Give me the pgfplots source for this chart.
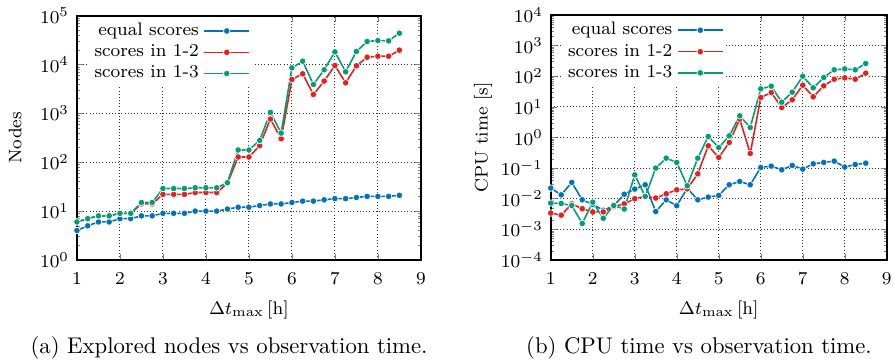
\documentclass[border=0pt]{standalone}
\usepackage{pgfplots}
\usepackage{pgfplotstable}
\pgfplotsset{compat=1.18}
\definecolor{cblue}{RGB}{0,114,189}
\definecolor{cred}{RGB}{230,30,30}
\definecolor{cgreen}{RGB}{0,158,115}
\pgfplotstableread{
x eq s12 s13
1 4 6 6
1.25 5 7 7
1.5 6 8 8
1.75 6 8 8
2 7 9 9
2.25 7 9 9
2.5 8 14 15
2.75 8 14 15
3 9 22 29
3.25 9 22 29
3.5 9 22 29
3.75 10 24 30
4 10 24 30
4.25 10 24 30
4.5 11 37 38
4.75 12 128 178
5 12 128 178
5.25 13 218 280
5.5 14 764 1047
5.75 14 303 395
6 15 4950 8570
6.25 16 6460 11700
6.5 16 2440 3910
6.75 17 4580 7800
7 18 9560 18200
7.25 18 4230 7080
7.5 19 9420 18500
7.75 20 14100 29600
8 20 14800 31000
8.25 20 14800 30500
8.5 21 19700 43800
}\tabnodes
\pgfplotstableread{
x eq s12 s13
1 0.0222 0.0034 0.0072
1.25 0.0134 0.0029 0.0070
1.5 0.034 0.0068 0.0060
1.75 0.0092 0.0047 0.00156
2 0.0065 0.0037 0.0077
2.25 0.0042 0.0037 0.0023
2.5 0.0058 0.0055 0.0060
2.75 0.014 0.0068 0.0046
3 0.0206 0.010 0.060
3.25 0.0285 0.0119 0.0119
3.5 0.0038 0.0105 0.10
3.75 0.0092 0.0145 0.211
4 0.0059 0.0195 0.153
4.25 0.022 0.021 0.0264
4.5 0.0092 0.065 0.211
4.75 0.0113 0.535 1.08
5 0.0128 0.222 0.47
5.25 0.0285 0.687 1.13
5.5 0.0366 3.97 5.1
5.75 0.0285 0.30 2.12
6 0.105 20.2 38.8
6.25 0.116 29.4 47.4
6.5 0.088 9.5 14.2
6.75 0.122 17 30.2
7 0.0925 51 100
7.25 0.138 21.3 41.8
7.5 0.153 48.6 91
7.75 0.169 80 162
8 0.108 88.7 174
8.25 0.131 80 162
8.5 0.145 126 260
}\tabcpu
\tikzset{
  serblue/.style={cblue, line width=0.7pt, mark=*, mark size=1.45pt, mark options={fill=cblue, draw=white, line width=0.3pt}},
  serred/.style={cred, line width=0.7pt, mark=*, mark size=1.45pt, mark options={fill=cred, draw=white, line width=0.3pt}},
  sergreen/.style={cgreen, line width=0.7pt, mark=*, mark size=1.45pt, mark options={fill=cgreen, draw=white, line width=0.3pt}},
}
\pgfplotsset{
  every axis/.append style={
    scale only axis,
    xmin=1, xmax=9, xtick={1,2,...,9},
    tick align=inside, major tick length=2.6pt, minor tick length=1.4pt,
    axis line style={line width=0.8pt},
    grid=major, major grid style={densely dotted, black!80, line width=0.4pt},
    tick label style={font=\fontsize{8}{9}\selectfont},
    xticklabel style={yshift=-2.3pt},
    label style={font=\fontsize{8}{9}\selectfont},
    xlabel={$\Delta t_{\max}\,[\mathrm{h}]$},
    legend style={font=\fontsize{8}{9}\selectfont, draw=none, fill=white,
      at={(0.03,1)}, anchor=north west, yshift=-0.4pt,
      inner xsep=1pt, inner ysep=0.6pt, row sep=-1.5pt},
    legend cell align=right, legend plot pos=right,
    legend image code/.code={%
      \draw[mark repeat=2,mark phase=2] plot coordinates {(0pt,0pt) (10pt,0pt) (20pt,0pt)};},
  },
}
\begin{document}
\begin{tikzpicture}
\useasboundingbox (0,0) rectangle (393.8pt,-158.6pt);
\begin{semilogyaxis}[at={(33.9pt,-114.5pt)}, anchor=south west,
  width=151.5pt, height=107.6pt,
  ymin=1, ymax=1e5, ytick={1,10,100,1000,10000,100000},
  ylabel={Nodes}, ylabel shift=1.3pt]
\addplot[serblue] table[x=x,y=eq]{\tabnodes};
\addplot[serred] table[x=x,y=s12]{\tabnodes};
\addplot[sergreen] table[x=x,y=s13]{\tabnodes};
\legend{equal scores, scores in 1-2, scores in 1-3}
\end{semilogyaxis}
\begin{semilogyaxis}[at={(242.6pt,-114.5pt)}, anchor=south west,
  width=148pt, height=107.9pt,
  ymin=1e-4, ymax=1e4, ytick={1e-4,1e-3,1e-2,1e-1,1,10,100,1000,10000},
  ylabel={CPU time [s]}, ylabel shift=-3pt]
\addplot[serblue] table[x=x,y=eq]{\tabcpu};
\addplot[serred] table[x=x,y=s12]{\tabcpu};
\addplot[sergreen] table[x=x,y=s13]{\tabcpu};
\legend{equal scores, scores in 1-2, scores in 1-3}
\end{semilogyaxis}
\node[anchor=base] at (100.9pt,-155.5pt) {(a) Explored nodes vs observation time.};
\node[anchor=base] at (307.9pt,-155.5pt) {(b) CPU time vs observation time.};
\end{tikzpicture}
\end{document}
